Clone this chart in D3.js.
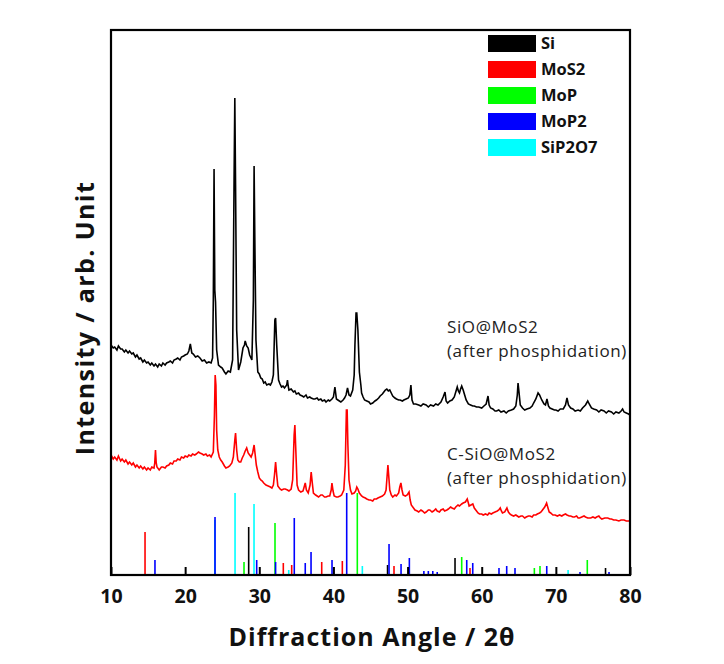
<!DOCTYPE html>
<html><head><meta charset="utf-8">
<script src="https://cdn.jsdelivr.net/npm/d3@7/dist/d3.min.js"></script>
<style>body{margin:0;background:#fff}svg{display:block}</style>
</head><body>
<svg id="c" width="724" height="664"></svg>
<script>
// ---- data (2θ in degrees, intensity in arbitrary units) ----
const xTicks = [10, 20, 30, 40, 50, 60, 70, 80];
const sampleNames = ["SiO@MoS2", "C-SiO@MoS2"];
const legendNames = ["Si", "MoS2", "MoP", "MoP2", "SiP2O7"];
const legendColors = ["#000000", "#ff0000", "#00ff00", "#0000ff", "#00ffff"];

const blackCurve = [
[10.0,230],[10.3,227],[10.5,228],[10.8,225],[11.0,229],[11.3,226],[11.5,226],[11.8,223],[12.0,225],[12.3,222],[12.5,224],[12.8,221],[13.0,222],[13.3,218],[13.5,220],[13.8,216],[14.0,217],[14.3,213],[14.5,215],[14.8,212],[15.0,213],[15.3,210],[15.5,212],[15.8,209],[16.0,211],[16.3,208],[16.5,211],[16.8,209],[17.0,212],[17.3,210],[17.5,212],[17.8,213],[18.0,214],[18.3,212],[18.5,215],[18.8,216],[19.0,217],[19.3,215],[19.5,218],[19.8,219],[20.0,220],[20.3,221],[20.5,224],[20.7,231],[20.9,222],[21.1,221],[21.4,218],[21.7,219],[22.0,217],[22.3,214],[22.6,215],[22.9,212],[23.2,213],[23.5,212],[23.7,217],[23.8,275],[23.9,406],[24.0,285],[24.1,273],[24.25,225],[24.5,210],[24.8,208],[25.0,207],[25.3,203],[25.5,201],[25.8,204],[26.1,203],[26.4,215],[26.6,395],[26.7,477],[26.8,390],[26.95,245],[27.2,205],[27.5,213],[27.8,227],[28.0,230],[28.1,234],[28.3,229],[28.5,227],[28.7,220],[29.0,215],[29.2,275],[29.3,409],[29.4,335],[29.55,235],[29.8,203],[30.0,201],[30.2,197],[30.4,196],[30.6,192],[30.8,193],[31.0,190],[31.3,191],[31.5,190],[31.7,193],[31.9,200],[32.1,255],[32.2,257],[32.35,230],[32.6,195],[32.8,191],[33.0,188],[33.2,189],[33.4,187],[33.7,190],[33.8,195],[33.9,189],[34.0,185],[34.3,186],[34.6,183],[34.8,184],[35.0,181],[35.3,182],[35.5,180],[35.8,179],[36.0,178],[36.3,180],[36.5,177],[36.8,178],[37.0,177],[37.3,176],[37.5,176],[37.8,177],[38.0,175],[38.3,176],[38.5,174],[38.8,175],[39.0,173],[39.3,175],[39.5,174],[39.8,176],[40.0,178],[40.2,188],[40.4,176],[40.6,175],[41.0,173],[41.3,175],[41.5,177],[41.7,180],[41.9,187],[42.1,180],[42.3,179],[42.6,185],[42.8,200],[42.9,230],[43.05,262],[43.15,262],[43.3,245],[43.5,203],[43.7,190],[43.8,182],[44.0,178],[44.2,175],[44.5,174],[44.8,173],[45.0,171],[45.3,172],[45.6,174],[45.8,175],[46.1,177],[46.3,179],[46.6,181],[46.8,183],[47.0,185],[47.2,186],[47.4,184],[47.6,185],[47.8,182],[48.0,179],[48.3,177],[48.5,176],[48.8,175],[49.0,175],[49.3,174],[49.5,175],[49.8,176],[50.1,177],[50.3,180],[50.45,190],[50.6,175],[50.8,171],[51.1,171],[51.5,170],[51.8,169],[52.1,171],[52.5,170],[52.8,168],[53.1,170],[53.5,169],[53.8,171],[54.1,170],[54.5,173],[54.8,178],[55.05,183],[55.2,174],[55.4,172],[55.7,174],[56.0,175],[56.3,178],[56.5,183],[56.7,188],[56.85,184],[57.0,182],[57.15,186],[57.3,189],[57.5,185],[57.7,180],[57.9,175],[58.2,171],[58.5,170],[58.8,169],[59.0,169],[59.3,168],[59.6,168],[60.0,167],[60.3,169],[60.6,171],[60.85,179],[61.0,170],[61.2,167],[61.5,166],[61.8,164],[62.0,164],[62.3,165],[62.6,163],[63.0,164],[63.3,162],[63.6,164],[64.0,165],[64.3,166],[64.6,169],[64.8,180],[64.9,192],[65.0,185],[65.2,170],[65.5,167],[65.8,165],[66.1,166],[66.5,167],[66.8,169],[67.0,172],[67.3,176],[67.6,182],[67.8,180],[68.1,175],[68.4,171],[68.6,170],[68.8,176],[69.0,169],[69.2,167],[69.5,166],[69.8,165],[70.0,165],[70.3,164],[70.6,166],[71.0,166],[71.3,170],[71.5,177],[71.7,170],[72.0,167],[72.3,166],[72.6,164],[73.0,165],[73.3,164],[73.6,167],[74.0,170],[74.3,174],[74.5,171],[74.8,167],[75.1,166],[75.5,165],[75.8,163],[76.1,165],[76.5,164],[76.8,162],[77.1,164],[77.5,163],[77.8,161],[78.1,163],[78.5,162],[78.8,164],[79.0,166],[79.2,163],[79.5,162],[79.8,161],[80.0,160]
];

const redCurve = [
[10.0,120],[10.3,116],[10.5,118],[10.8,115],[11.0,119],[11.3,114],[11.5,116],[11.8,113],[12.0,115],[12.3,111],[12.5,113],[12.8,110],[13.0,112],[13.3,108],[13.5,110],[13.8,107],[14.0,109],[14.3,106],[14.5,108],[14.8,105],[15.0,107],[15.3,105],[15.5,108],[15.8,107],[15.9,112],[16.0,125],[16.1,112],[16.2,108],[16.5,105],[16.8,108],[17.0,108],[17.3,107],[17.5,109],[17.8,110],[18.0,112],[18.3,111],[18.5,114],[18.8,114],[19.0,116],[19.3,115],[19.5,118],[19.8,117],[20.0,119],[20.3,118],[20.5,120],[20.8,119],[21.0,121],[21.3,120],[21.5,121],[21.8,123],[22.0,122],[22.3,121],[22.5,120],[22.8,121],[23.0,119],[23.3,120],[23.5,118],[23.8,123],[23.95,160],[24.05,200],[24.15,190],[24.25,145],[24.4,125],[24.6,118],[24.8,115],[25.0,113],[25.3,109],[25.5,107],[25.8,108],[26.0,109],[26.3,112],[26.5,118],[26.7,135],[26.8,142],[26.95,125],[27.1,115],[27.3,113],[27.5,113],[27.7,117],[27.9,120],[28.1,124],[28.3,127],[28.5,122],[28.7,120],[28.9,118],[29.1,122],[29.3,130],[29.45,120],[29.6,110],[29.8,103],[30.0,97],[30.2,95],[30.4,94],[30.6,92],[30.9,90],[31.2,89],[31.5,88],[31.7,87],[31.9,90],[32.05,100],[32.2,113],[32.35,100],[32.5,89],[32.8,86],[33.0,85],[33.3,86],[33.5,86],[33.8,85],[34.0,84],[34.3,86],[34.5,95],[34.7,140],[34.8,150],[34.9,130],[35.1,90],[35.3,85],[35.6,83],[35.9,84],[36.05,88],[36.2,92],[36.35,85],[36.6,82],[36.85,90],[37.0,103],[37.15,92],[37.3,82],[37.6,80],[38.0,78],[38.3,80],[38.5,80],[38.8,78],[39.0,78],[39.3,79],[39.5,79],[39.7,85],[39.8,92],[39.95,84],[40.1,79],[40.4,78],[40.6,78],[40.9,79],[41.1,80],[41.4,85],[41.6,110],[41.75,165],[41.85,165],[41.95,130],[42.1,95],[42.3,85],[42.5,81],[42.8,82],[43.0,84],[43.15,88],[43.3,86],[43.5,82],[43.8,79],[44.0,78],[44.3,77],[44.5,76],[44.8,75],[45.0,75],[45.3,74],[45.5,76],[45.8,76],[46.0,77],[46.3,78],[46.6,79],[46.9,81],[47.1,85],[47.25,100],[47.35,110],[47.45,100],[47.6,85],[47.8,80],[48.0,78],[48.3,80],[48.5,79],[48.8,82],[48.95,88],[49.1,92],[49.25,85],[49.4,80],[49.7,79],[49.95,80],[50.2,83],[50.35,75],[50.5,70],[50.8,67],[51.0,65],[51.3,64],[51.5,63],[51.8,65],[52.0,64],[52.3,62],[52.5,63],[52.8,65],[53.0,65],[53.3,63],[53.5,64],[53.8,66],[54.0,64],[54.3,63],[54.5,65],[54.8,66],[55.0,64],[55.3,65],[55.5,66],[55.8,68],[56.0,67],[56.3,66],[56.5,68],[56.8,70],[57.0,69],[57.3,71],[57.5,72],[57.8,73],[58.05,76],[58.2,72],[58.3,69],[58.55,70],[58.8,71],[59.0,67],[59.2,65],[59.5,62],[59.7,61],[60.0,61],[60.2,60],[60.5,61],[60.8,60],[61.0,62],[61.3,61],[61.5,62],[61.8,63],[62.1,64],[62.3,65],[62.5,67],[62.65,64],[62.8,62],[63.1,63],[63.4,67],[63.6,63],[63.8,61],[64.0,60],[64.3,59],[64.6,60],[65.0,58],[65.3,59],[65.5,59],[65.8,57],[66.0,58],[66.3,59],[66.5,59],[66.8,58],[67.0,60],[67.3,60],[67.5,61],[67.8,62],[68.0,63],[68.2,65],[68.5,68],[68.75,72],[68.9,68],[69.1,63],[69.3,62],[69.6,60],[69.9,60],[70.2,59],[70.5,60],[70.8,59],[71.0,60],[71.3,61],[71.5,60],[71.8,59],[72.0,59],[72.3,58],[72.5,58],[72.8,59],[73.0,57],[73.2,57],[73.5,58],[73.8,59],[74.0,58],[74.3,57],[74.7,57],[75.0,58],[75.3,57],[75.5,58],[75.8,59],[76.0,57],[76.2,56],[76.6,57],[77.0,57],[77.3,56],[77.5,56],[77.8,55],[78.1,55],[78.5,54],[78.8,55],[79.0,55],[79.2,55],[79.5,54],[79.8,54],[80.0,54]
];

// reference stick patterns: [2θ, relative height]
const refSiP2O7 = [[24.0,55],[26.73,82],[29.29,71],[33.97,5],[43.9,9],[71.65,5]];
const refSi = [[28.57,48],[47.3,10],[56.4,17],[76.7,7]];
const refMoS2 = [[14.59,43],[33.24,12],[34.37,10],[38.42,13],[41.2,14],[48.17,9],[58.42,7]];
const refMoP = [[27.94,13],[32.12,52],[43.22,82],[57.3,18],[67.1,7],[67.86,9],[74.24,15]];
const refMoP2 = [[15.93,15],[24.03,58],[29.65,15],[32.2,13],[34.72,57],[36.2,12],[36.98,23],[39.81,15],[41.79,82],[47.5,31],[49.12,11],[50.24,17],[52.2,4],[52.8,4],[53.4,4],[54.0,3],[57.98,15],[58.79,12],[62.33,7],[63.37,9],[64.49,7],[68.77,9],[73.26,3],[77.17,3]];

// ---- layout ----
const svg = d3.select("#c");
const L = 111, R = 630, T = 30, B = 575;
const x = d3.scaleLinear().domain([10, 80]).range([L, R]);
const y = d3.scaleLinear().domain([0, 545]).range([B, T]);
const font = "'Open Sans', 'Noto Sans', sans-serif";

// sticks
const sticks = [
  [refSiP2O7, "#00ffff"], [refSi, "#000000"], [refMoS2, "#ff0000"],
  [refMoP, "#00ff00"], [refMoP2, "#0000ff"]
];
sticks.forEach(([arr, col]) => {
  svg.append("g").selectAll("line").data(arr).join("line")
    .attr("x1", d => x(d[0])).attr("x2", d => x(d[0]))
    .attr("y1", y(0)).attr("y2", d => y(d[1]))
    .attr("stroke", col).attr("stroke-width", 1.6);
});

// curves
const line = d3.line().x(d => x(d[0])).y(d => y(d[1]));
svg.append("path").datum(redCurve).attr("d", line)
  .attr("fill", "none").attr("stroke", "#ff0000").attr("stroke-width", 1.6);
svg.append("path").datum(blackCurve).attr("d", line)
  .attr("fill", "none").attr("stroke", "#000000").attr("stroke-width", 1.6);

// bottom axis
const ax = svg.append("g").attr("transform", `translate(0,${B})`)
  .call(d3.axisBottom(x).tickValues(xTicks).tickSize(-8).tickPadding(14).tickFormat(d3.format("d")));
ax.select(".domain").remove();
ax.selectAll(".tick line").attr("stroke", "#000").attr("stroke-width", 2);
ax.selectAll(".tick text").attr("font-family", font).attr("font-weight", "bold")
  .attr("font-size", 19.5).attr("fill", "#111");

// frame
svg.append("rect").attr("x", L).attr("y", T).attr("width", R - L).attr("height", B - T)
  .attr("fill", "none").attr("stroke", "#000").attr("stroke-width", 2.2);

// legend
const lg = svg.append("g").selectAll("g").data(legendNames).join("g")
  .attr("transform", (d, i) => `translate(488,${35 + i * 26})`);
lg.append("rect").attr("width", 48).attr("height", 17).attr("fill", (d, i) => legendColors[i]);
lg.append("text").attr("x", 53).attr("y", 8.5).attr("dy", "0.36em").text(d => d)
  .attr("font-family", font).attr("font-weight", "bold").attr("font-size", 16.5).attr("fill", "#111");

// sample labels
const lab = [[sampleNames[0], 333], [sampleNames[1], 460]];
lab.forEach(([name, by]) => {
  const t = svg.append("text").attr("x", 447).attr("y", by)
    .attr("font-family", font).attr("font-size", 17).attr("letter-spacing", 0.6).attr("fill", "#222");
  t.append("tspan").attr("x", 447).text(name);
  t.append("tspan").attr("x", 447).attr("dy", 24).text("(after phosphidation)");
});

// axis titles
svg.append("text").attr("x", 372).attr("y", 646).attr("text-anchor", "middle")
  .attr("font-family", font).attr("font-weight", "bold").attr("font-size", 25)
  .attr("letter-spacing", 1).attr("fill", "#111")
  .text("Diffraction Angle / 2θ");
svg.append("text").attr("transform", "translate(94,318) rotate(-90)").attr("text-anchor", "middle")
  .attr("font-family", font).attr("font-weight", "bold").attr("font-size", 25)
  .attr("letter-spacing", 1.4).attr("fill", "#111")
  .text("Intensity / arb. Unit");
</script>
</body></html>
